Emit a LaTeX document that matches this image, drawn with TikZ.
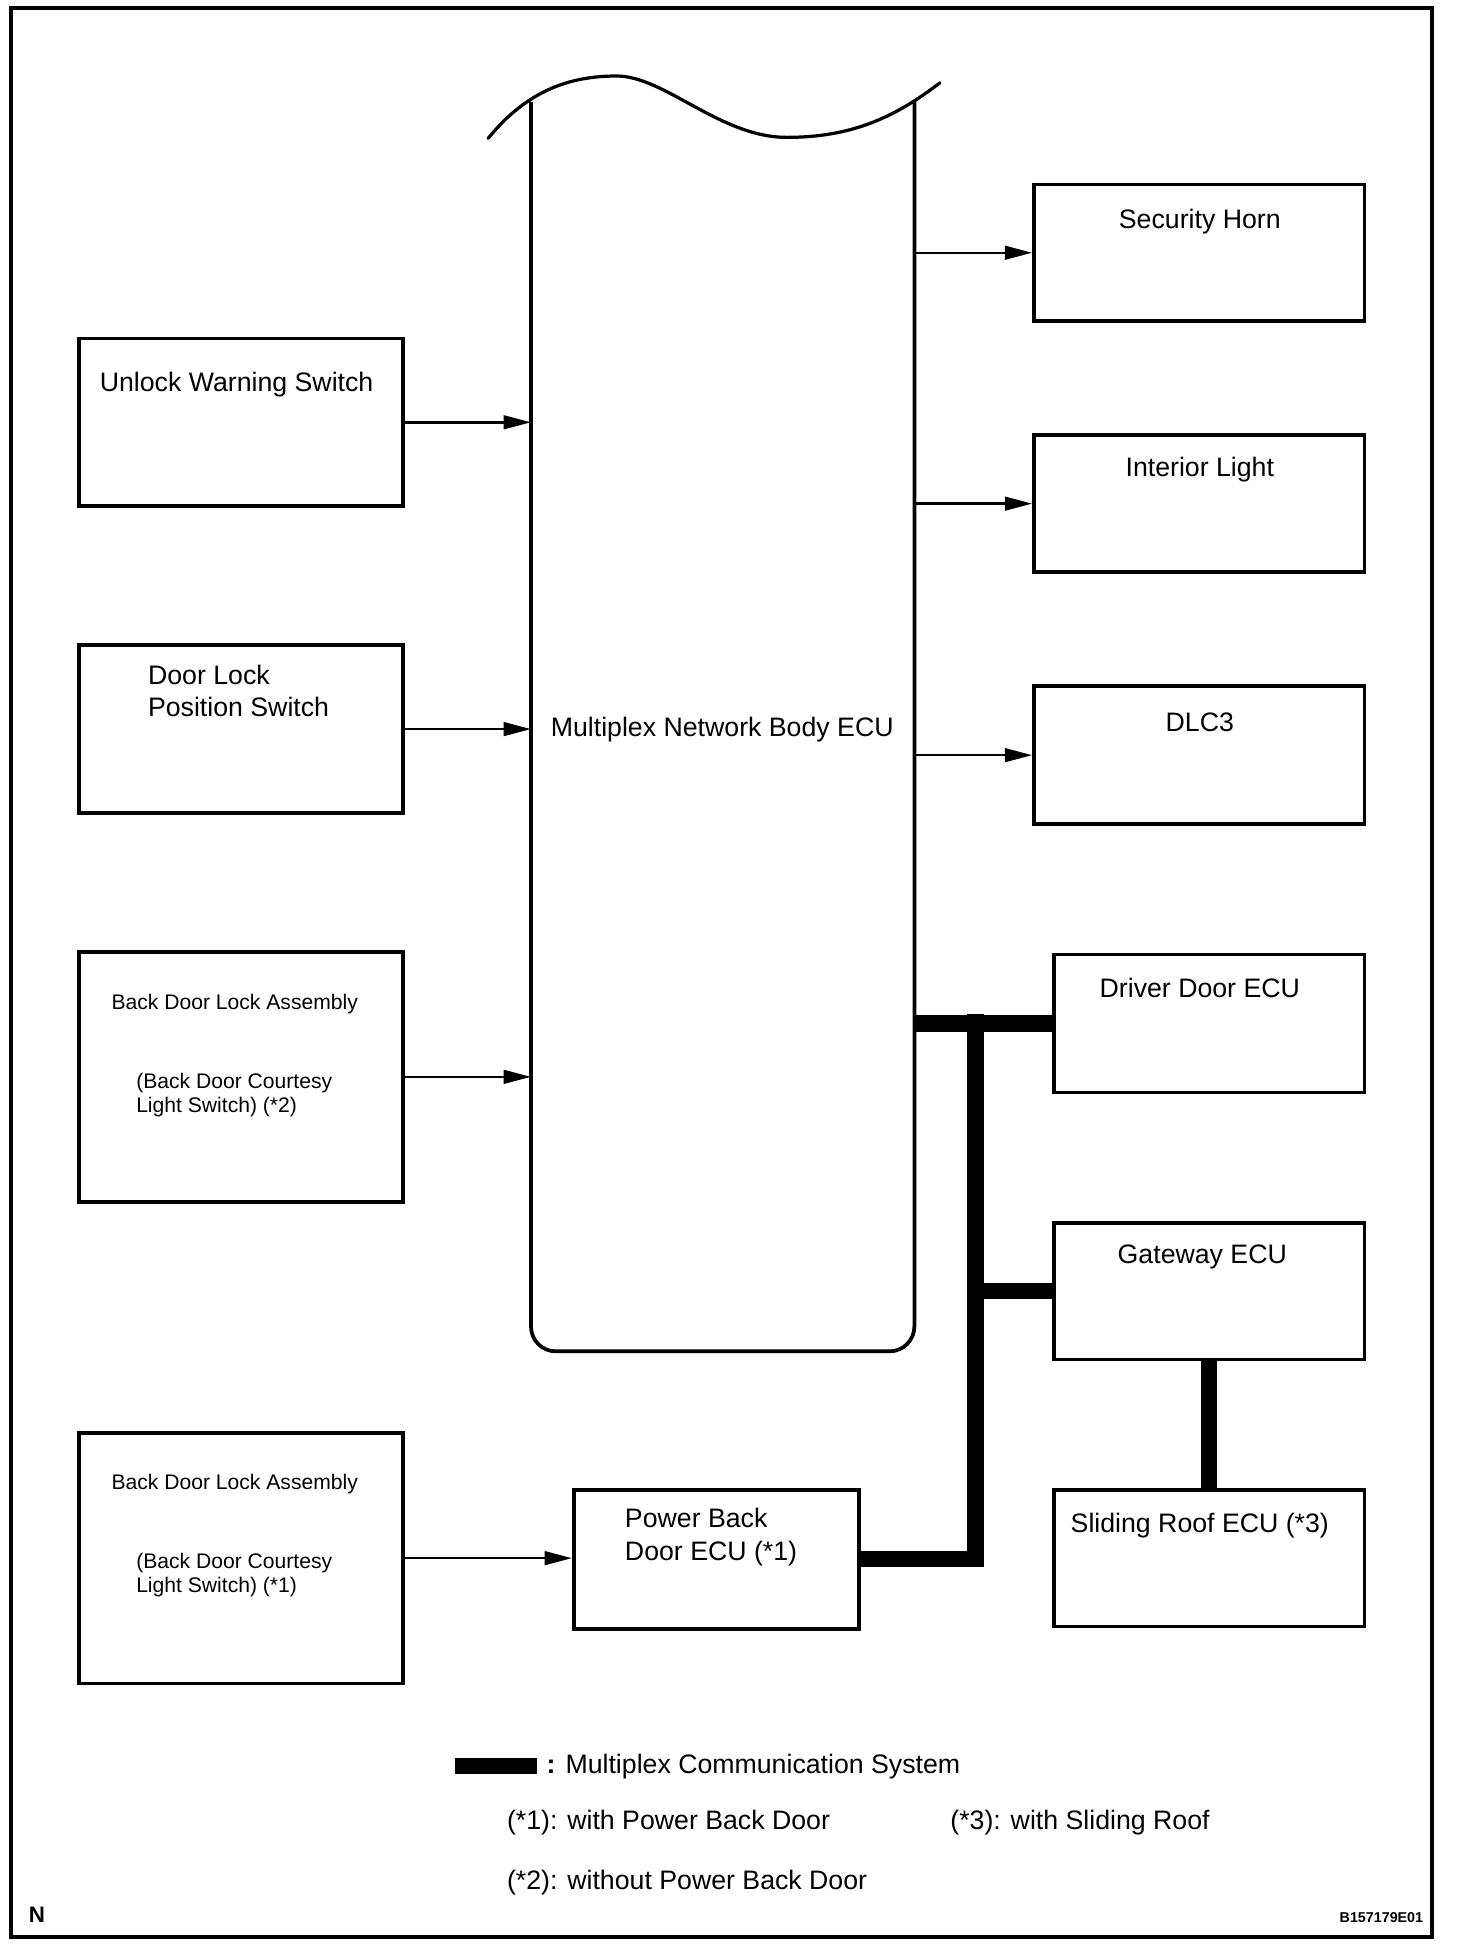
\documentclass[tikz,border=0pt]{standalone}
\usepackage{fontspec}
\setmainfont{Liberation Sans}
\usetikzlibrary{arrows.meta}
\begin{document}
\begin{tikzpicture}[x=1pt,y=-1pt,
  box/.style={draw, line width=3pt, inner sep=0pt, anchor=north west},
  lbl/.style={anchor=base, inner sep=0pt, font=\fontsize{21.5}{26}\selectfont},
  lbll/.style={anchor=base west, inner sep=0pt, font=\fontsize{21.5}{26}\selectfont},
  sml/.style={anchor=base, inner sep=0pt, font=\fontsize{17}{20}\selectfont},
  smll/.style={anchor=base west, inner sep=0pt, font=\fontsize{17}{20}\selectfont},
  conn/.style={line width=2pt, -{Triangle[length=22pt,width=11pt]}},
  bus/.style={line width=13pt},
  wall/.style={line width=3pt, line join=round},
]
\useasboundingbox (0,0) rectangle (1172.3,1568.4);
% frame
\draw[line width=3pt] (9,6.5) rectangle (1153,1559.5);

% ECU
\node[inner sep=0pt, minimum width=309, minimum height=1005, anchor=north west] (ecu) at (427.5,82) {};
\draw[wall, rounded corners=20pt] (427.5,82) -- (427.5,1088) -- (736.2,1088) -- (736.2,82);
\draw[line width=2.6pt, line cap=round] (393,111.4) .. controls (425,72) and (460,61.2) .. (496.5,61.2)
  .. controls (535,61.2) and (580,110.6) .. (633.4,110.6)
  .. controls (685,110.6) and (720,95) .. (756.8,66.6);
\node[lbl] (ecut) at (581.5,593) {Multiplex Network Body ECU};

% left boxes
\node[box, minimum width=261, minimum height=135] (uws) at (62,271) {};
\node[lbl] (uwst) at (190.5,315.5) {Unlock Warning Switch};
\node[box, minimum width=261, minimum height=135] (dlp) at (62,518) {};
\node[lbll] (dlpt1) at (119,551) {Door Lock};
\node[lbll] (dlpt2) at (119,577) {Position Switch};
\node[box, minimum width=261, minimum height=201] (bdla) at (62,765) {};
\node[sml] (bdlat) at (189,812.5) {Back Door Lock Assembly};
\node[smll] (bdlat1) at (109.5,876) {(Back Door Courtesy};
\node[smll] (bdlat2) at (109.5,895.5) {Light Switch) (*2)};
\node[box, minimum width=261, minimum height=202] (bdlb) at (62,1152) {};
\node[sml] (bdlbt) at (189,1199.5) {Back Door Lock Assembly};
\node[smll] (bdlbt1) at (109.5,1263) {(Back Door Courtesy};
\node[smll] (bdlbt2) at (109.5,1282.5) {Light Switch) (*1)};

% power back door ECU
\node[box, minimum width=229.5, minimum height=112] (pbd) at (460.5,1198) {};
\node[lbll] (pbdt1) at (503,1229.5) {Power Back};
\node[lbll] (pbdt2) at (503,1256) {Door ECU (*1)};

% right boxes
\node[box, minimum width=266, minimum height=110] (horn) at (831,147) {};
\node[lbl] (hornt) at (966,184) {Security Horn};
\node[box, minimum width=266, minimum height=110] (intl) at (831,349) {};
\node[lbl] (intlt) at (966,384) {Interior Light};
\node[box, minimum width=266, minimum height=111] (dlc) at (831,551) {};
\node[lbl] (dlct) at (966,589) {DLC3};
\node[box, minimum width=250, minimum height=111] (drv) at (847,767) {};
\node[lbl] (drvt) at (966,803.5) {Driver Door ECU};
\node[box, minimum width=250, minimum height=110] (gw) at (847,983) {};
\node[lbl] (gwt) at (968,1017) {Gateway ECU};
\node[box, minimum width=250, minimum height=110] (sr) at (847,1198) {};
\node[lbl] (srt) at (966,1234) {Sliding Roof ECU (*3)};

% connectors
\draw[conn] (uws.east) -- (uws.east -| ecu.west);
\draw[conn] (dlp.east) -- (dlp.east -| ecu.west);
\draw[conn] (bdla.east) -- (bdla.east -| ecu.west);
\draw[conn] (bdlb.east) -- (pbd.west |- bdlb.east);
\draw[conn] (ecu.east |- horn.west) -- (horn.west);
\draw[conn] (ecu.east |- intl.west) -- (intl.west);
\draw[conn] (ecu.east |- dlc.west) -- (dlc.west);

% multiplex bus
\coordinate (jt) at (785.4,816.5);
\draw[bus] (ecu.east |- drv.west) -- (drv.west);
\draw[bus] (jt) |- (pbd.east);
\draw[bus] (jt |- gw.west) -- (gw.west);
\draw[bus] (gw.south) -- (sr.north);

% legend
\node[fill, inner sep=0pt, minimum width=66, minimum height=13, anchor=north west] (legbar) at (366,1415) {};
\node[lbll] (legt) at (440,1428) {{\bfseries :} Multiplex Communication System};
\node[lbll] (n1) at (408,1473) {(*1): with Power Back Door};
\node[lbll] (n3) at (765,1473) {(*3): with Sliding Roof};
\node[lbll] (n2) at (408,1521) {(*2): without Power Back Door};

\node[anchor=base west, inner sep=0pt, font=\bfseries\fontsize{18}{20}\selectfont] (nmark) at (23,1548) {N};
\node[anchor=base east, inner sep=0pt, font=\bfseries\fontsize{11.5}{13}\selectfont] (code) at (1146,1548) {B157179E01};
\end{tikzpicture}
\end{document}
